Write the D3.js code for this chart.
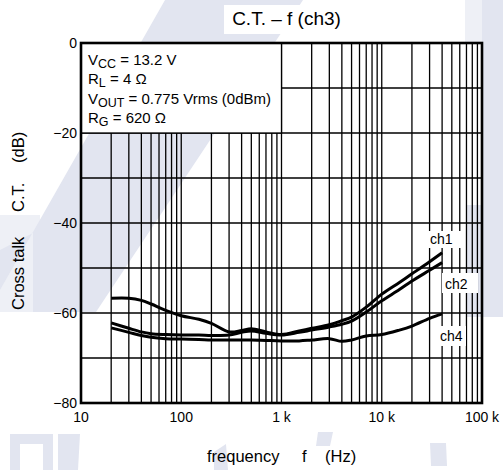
<!DOCTYPE html>
<html>
<head>
<meta charset="utf-8">
<script src="https://cdn.jsdelivr.net/npm/d3@7/dist/d3.min.js"></script>
<style>
  html, body { margin: 0; padding: 0; background: #ffffff; }
  svg { display: block; }
  text { font-family: "Liberation Sans", Arial, Helvetica, sans-serif; fill: #000; }
</style>
</head>
<body>
<svg id="chart" width="503" height="470"></svg>
<script>
// ---------- data ----------
const freqs = [20, 30, 40, 50, 70, 100, 150, 200, 300, 400, 500, 700, 1000, 1500, 2000, 3000, 4000, 5000, 7000, 10000, 15000, 20000, 30000, 40000];
const ch1 = [-56.7, -56.7, -57.2, -58.0, -59.4, -60.6, -61.4, -62.3, -64.2, -63.9, -63.5, -64.2, -64.8, -64.0, -63.4, -62.6, -61.7, -60.9, -58.7, -55.8, -53.2, -51.3, -48.6, -46.6];
const ch2 = [-62.2, -63.4, -64.2, -64.6, -64.8, -64.9, -64.9, -65.0, -64.9, -64.3, -64.0, -64.5, -64.9, -64.3, -63.8, -63.1, -62.5, -61.8, -59.8, -57.3, -54.8, -52.9, -50.5, -48.8];
const ch4 = [-63.3, -64.3, -65.0, -65.4, -65.7, -65.8, -65.9, -66.0, -66.0, -66.0, -66.0, -66.1, -66.2, -66.2, -66.0, -65.7, -66.3, -66.0, -65.1, -64.8, -63.8, -62.9, -61.2, -60.2];
const seriesNames = ["ch1", "ch2", "ch4"];

const xTickValues = [10, 100, 1000, 10000, 100000];
const xTickLabels = ["10", "100", "1 k", "10 k", "100 k"];
const yTickValues = [0, -20, -40, -60, -80];
const yTickLabels = ["0", "\u221220", "\u221240", "\u221260", "\u221280"];
const yGridValues = [0, -10, -20, -30, -40, -50, -60, -70, -80];

const titleText = "C.T. \u2013 f (ch3)";
const conditions = [
  ["V", "CC", " = 13.2 V"],
  ["R", "L", " = 4 \u03A9"],
  ["V", "OUT", " = 0.775 Vrms (0dBm)"],
  ["R", "G", " = 620 \u03A9"]
];

// ---------- layout ----------
const svg = d3.select("#chart");
const L = 81, R = 482, T = 43, B = 403;
const x = d3.scaleLog().domain([10, 100000]).range([L, R]);
const y = d3.scaleLinear().domain([-80, 0]).range([B, T]);

// ---------- watermark background ----------
const wm = svg.append("g");
const wmColor = "#e2e5f0";
const wmLight = "#eef0f6";
const polys = [
  { c: wmLight, p: [[0, 215], [0, 312], [40, 312], [40, 215]] },
  { c: wmColor, p: [[165, 0], [303, 0], [96, 312], [33, 312], [33, 233], [0, 250], [0, 290]] },
  { c: wmLight, p: [[465, 0], [503, 0], [503, 43], [465, 43]] },
  { c: wmColor, p: [[482, 0], [503, 0], [503, 317], [482, 317]] },
  { c: wmColor, p: [[466, 205], [482, 205], [482, 317], [466, 317]] },
  // bottom blobs
  { c: wmColor, p: [[10, 434], [53, 434], [53, 470], [43, 470], [43, 444], [20, 444], [20, 470], [10, 470]] },
  { c: wmColor, p: [[58, 434], [80, 434], [78, 470], [58, 470]] },
  { c: wmColor, p: [[214, 452], [226, 444], [228, 470], [214, 470]] },
  { c: wmColor, p: [[318, 432], [333, 432], [330, 446], [316, 446]] },
  { c: wmColor, p: [[430, 443], [446, 443], [447, 466], [431, 466]] }
];
wm.selectAll("polygon").data(polys).join("polygon")
  .attr("points", d => d.p.map(q => q.join(",")).join(" "))
  .attr("fill", d => d.c);

// title background + title
svg.append("rect").attr("x", 224).attr("y", 5).attr("width", 241).attr("height", 29).attr("fill", "#fff");
svg.append("text").attr("x", 286.5).attr("y", 25).attr("text-anchor", "middle")
  .attr("font-size", 19).text(titleText);

// ---------- grid ----------
const xGridValues = [];
[10, 100, 1000, 10000].forEach(dec => { for (let k = 1; k <= 9; k++) xGridValues.push(k * dec); });
xGridValues.push(100000);

const grid = svg.append("g").attr("stroke", "#000").attr("stroke-width", 1.3);
grid.selectAll("line.v").data(xGridValues).join("line").attr("class", "v")
  .attr("x1", d => x(d)).attr("x2", d => x(d)).attr("y1", T).attr("y2", B);
grid.selectAll("line.h").data(yGridValues).join("line").attr("class", "h")
  .attr("x1", L).attr("x2", R).attr("y1", d => y(d)).attr("y2", d => y(d));

// conditions box (covers grid)
svg.append("rect")
  .attr("x", x(10)).attr("y", y(0))
  .attr("width", x(1000) - x(10)).attr("height", y(-20) - y(0))
  .attr("fill", "#fff").attr("stroke", "#000").attr("stroke-width", 1.3);

const condBaselines = [65, 84, 104, 123];
conditions.forEach((c, i) => {
  const t = svg.append("text").attr("x", 88).attr("y", condBaselines[i]).attr("font-size", 15);
  t.append("tspan").text(c[0]);
  t.append("tspan").attr("font-size", 12.5).attr("dy", 3).text(c[1]);
  t.append("tspan").attr("dy", -3).text(c[2]);
});

// frame
svg.append("rect").attr("x", L).attr("y", T).attr("width", R - L).attr("height", B - T)
  .attr("fill", "none").attr("stroke", "#000").attr("stroke-width", 2.6);

// ---------- curves ----------
const line = d3.line()
  .x((d, i) => x(freqs[i]))
  .y(d => y(d))
  .curve(d3.curveCatmullRom.alpha(0.5));

svg.append("g").selectAll("path").data([ch4, ch2, ch1]).join("path")
  .attr("d", d => line(d))
  .attr("fill", "none").attr("stroke", "#000").attr("stroke-width", 3)
  .attr("stroke-linejoin", "round").attr("stroke-linecap", "butt");

// series labels with white background
const labelPos = [
  { name: seriesNames[0], bx: 427, by: 231, bw: 35, bh: 17, tx: 430, ty: 243.5 },
  { name: seriesNames[1], bx: 442, by: 273, bw: 36, bh: 20, tx: 445, ty: 288.5 },
  { name: seriesNames[2], bx: 437, by: 326, bw: 29, bh: 20, tx: 440, ty: 340.5 }
];
const lg = svg.append("g");
lg.selectAll("rect").data(labelPos).join("rect")
  .attr("x", d => d.bx).attr("y", d => d.by).attr("width", d => d.bw).attr("height", d => d.bh)
  .attr("fill", "#fff");
lg.selectAll("text").data(labelPos).join("text")
  .attr("x", d => d.tx).attr("y", d => d.ty).attr("font-size", 14).text(d => d.name);

// ---------- tick labels ----------
svg.append("g").selectAll("text").data(xTickValues).join("text")
  .attr("x", d => x(d)).attr("y", 422).attr("text-anchor", "middle").attr("font-size", 14)
  .text((d, i) => xTickLabels[i]);
svg.append("g").selectAll("text").data(yTickValues).join("text")
  .attr("x", 77).attr("y", d => y(d)).attr("dy", "0.35em").attr("text-anchor", "end").attr("font-size", 14)
  .text((d, i) => yTickLabels[i]);

// ---------- axis titles ----------
const xt = [["frequency", 207], ["f", 302], ["(Hz)", 325]];
svg.append("g").selectAll("text").data(xt).join("text")
  .attr("x", d => d[1]).attr("y", 462).attr("font-size", 16.5).text(d => d[0]);

const yt = [["Cross talk", 310], ["C.T.", 212], ["(dB)", 163]];
svg.append("g").selectAll("text").data(yt).join("text")
  .attr("transform", d => `translate(24,${d[1]}) rotate(-90)`)
  .attr("font-size", 16.5).text(d => d[0]);
</script>
</body>
</html>
